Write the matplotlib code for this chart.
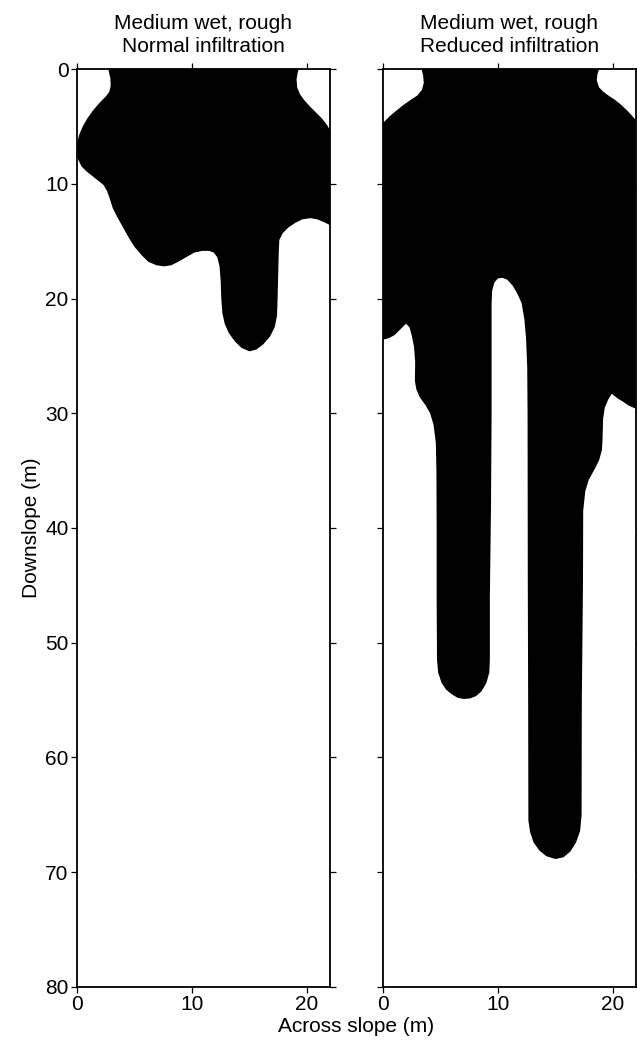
import matplotlib
matplotlib.use("Agg")
import matplotlib.pyplot as plt

plt.rcParams['font.family'] = ['Liberation Sans', 'DejaVu Sans']
plt.rcParams['font.size'] = 15

# wetted area outlines, across slope (m) / downslope (m)
normal_x = [2.72, 2.9, 2.93, 2.8, 2.5, 2.0, 1.4, 0.9, 0.5, 0.2, 0.02, 0.0,
            0.1, 0.4, 0.8, 1.3, 1.8, 2.3, 2.6, 2.85, 3.1, 3.5, 4.0, 4.5, 5.0,
            5.6, 6.2, 6.9, 7.6, 8.2, 8.8, 9.5, 10.2, 10.9, 11.5, 11.9, 12.2,
            12.4, 12.5, 12.55, 12.65, 12.85, 13.2, 13.7, 14.3, 15.0, 15.6,
            16.2, 16.8, 17.2, 17.4, 17.45, 17.5, 17.55, 17.6, 17.9, 18.4, 19.0,
            19.6, 20.3, 20.9, 21.5, 22.0, 22.0, 21.7, 21.3, 20.8, 20.3, 19.8,
            19.4, 19.15, 19.1, 19.2, 19.3]
normal_y = [0.0, 0.8, 1.5, 2.0, 2.4, 2.9, 3.6, 4.3, 5.0, 5.7, 6.4, 7.2, 7.9,
            8.5, 8.9, 9.3, 9.7, 10.1, 10.6, 11.3, 12.1, 12.9, 13.8, 14.7, 15.5,
            16.2, 16.8, 17.1, 17.2, 17.1, 16.8, 16.4, 16.0, 15.85, 15.85, 16.0,
            16.4, 17.2, 18.5, 20.0, 21.3, 22.2, 23.0, 23.7, 24.3, 24.6, 24.45,
            24.0, 23.3, 22.5, 21.5, 20.0, 18.0, 16.0, 14.9, 14.3, 13.8, 13.4,
            13.1, 13.0, 13.1, 13.35, 13.6, 5.3, 4.8, 4.3, 3.8, 3.3, 2.75, 2.2,
            1.6, 0.9, 0.3, 0.0]

reduced_x = [3.36, 3.5, 3.55, 3.4, 3.0, 2.4, 1.77, 1.2, 0.6, 0.0, 0.0, 0.5,
             1.0, 1.5, 2.0, 2.3, 2.5, 2.7, 2.8, 2.78, 2.9, 3.2, 3.7, 4.1, 4.4,
             4.6, 4.65, 4.67, 4.67, 4.7, 4.8, 5.1, 5.5, 6.0, 6.5, 7.0, 7.6, 8.1,
             8.6, 9.0, 9.25, 9.3, 9.3, 9.4, 9.45, 9.45, 9.5, 9.7, 10.0, 10.4,
             10.8, 11.3, 11.7, 12.06, 12.3, 12.45, 12.55, 12.58, 12.6, 12.63,
             12.65, 12.8, 13.1, 13.6, 14.2, 15.0, 15.7, 16.3, 16.8, 17.15,
             17.28, 17.3, 17.4, 17.42, 17.6, 17.9, 18.4, 18.8, 19.05, 19.1,
             19.15, 19.3, 19.6, 19.9, 20.4, 20.9, 21.4, 22.0, 22.0, 21.6, 21.2,
             20.7, 20.2, 19.6, 19.16, 18.8, 18.6, 18.65, 18.8]
reduced_y = [0.0, 0.6, 1.2, 1.8, 2.3, 2.7, 3.14, 3.6, 4.1, 4.7, 23.6, 23.45,
             23.2, 22.7, 22.2, 22.5, 23.2, 24.2, 25.5, 27.2, 27.9, 28.6, 29.3,
             30.0, 31.0, 32.6, 35.0, 40.0, 46.0, 51.5, 52.6, 53.5, 54.1, 54.5,
             54.8, 54.9, 54.85, 54.65, 54.2, 53.5, 52.6, 51.5, 46.0, 38.0, 30.0,
             20.5, 19.3, 18.6, 18.25, 18.2, 18.35, 18.9, 19.6, 20.4, 21.8, 23.5,
             26.0, 30.0, 45.0, 55.0, 65.5, 66.5, 67.4, 68.1, 68.6, 68.85, 68.7,
             68.2, 67.4, 66.4, 65.0, 55.0, 45.0, 38.5, 36.8, 35.8, 34.9, 34.1,
             33.2, 32.3, 30.5, 29.5, 28.8, 28.3, 28.7, 29.0, 29.35, 29.6, 4.45,
             4.0, 3.57, 3.1, 2.7, 2.3, 1.98, 1.6, 1.0, 0.5, 0.0]

titles = ["Medium wet, rough\nNormal infiltration",
          "Medium wet, rough\nReduced infiltration"]
xticks = [0, 10, 20]
yticks = [0, 10, 20, 30, 40, 50, 60, 70, 80]

fig = plt.figure(figsize=(6.37, 10.41), dpi=100)
ax1 = fig.add_axes([0.1209, 0.0519, 0.397, 0.8818])
ax2 = fig.add_axes([0.6012, 0.0519, 0.397, 0.8818])

ax1.fill(normal_x, normal_y, color='black', lw=0)
ax2.fill(reduced_x, reduced_y, color='black', lw=0)

for ax, title in zip([ax1, ax2], titles):
    ax.set_xlim(0, 22)
    ax.set_ylim(80, 0)
    ax.set_xticks(xticks)
    ax.set_yticks(yticks)
    ax.tick_params(direction='out', length=4, width=0.9, pad=2,
                   top=True, right=True, labelsize=15)
    for s in ax.spines.values():
        s.set_linewidth(1.3)
    ax.set_title(title, fontsize=15, pad=12, linespacing=1.3)

ax2.tick_params(labelleft=False)
ax1.set_ylabel("Downslope (m)", fontsize=15, labelpad=3)
fig.text(0.5597, 0.005, "Across slope (m)", ha='center', va='bottom', fontsize=15)

fig.savefig("out.png", dpi=100)
